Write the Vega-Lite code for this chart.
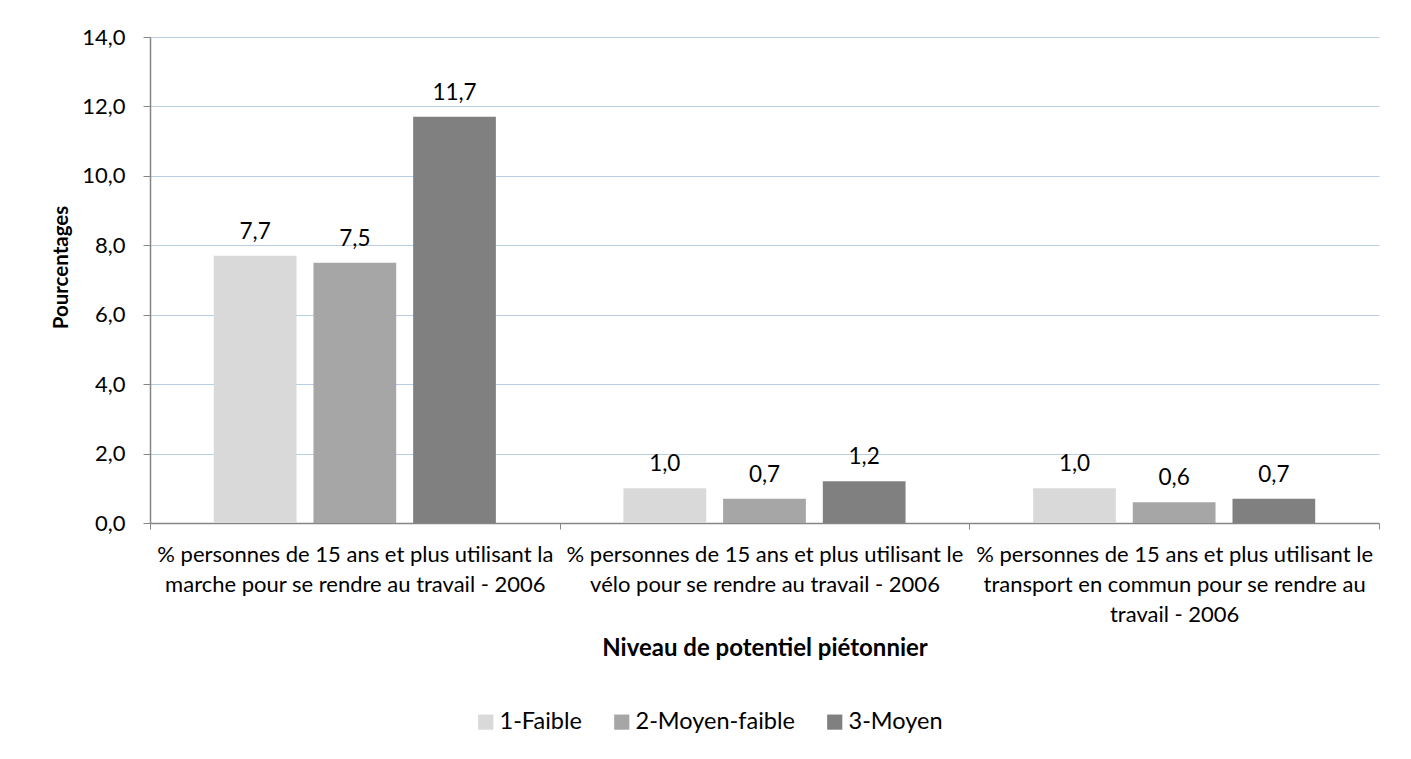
{
  "$schema": "https://vega.github.io/schema/vega-lite/v6.json",
  "width": 1229,
  "height": 486,
  "autosize": {"type": "none"},
  "padding": {"left": 150, "top": 37, "right": 32, "bottom": 236},
  "background": "white",
  "config": {
    "font": "Lato",
    "view": {"stroke": null},
    "locale": {"number": {"decimal": ",", "thousands": " ", "grouping": [3], "currency": ["", " €"]}}
  },
  "data": {
    "values": [
      {"indicateur": "% personnes de 15 ans et plus utilisant la|marche pour se rendre au travail - 2006", "niveau": "1-Faible", "valeur": 7.7},
      {"indicateur": "% personnes de 15 ans et plus utilisant la|marche pour se rendre au travail - 2006", "niveau": "2-Moyen-faible", "valeur": 7.5},
      {"indicateur": "% personnes de 15 ans et plus utilisant la|marche pour se rendre au travail - 2006", "niveau": "3-Moyen", "valeur": 11.7},
      {"indicateur": "% personnes de 15 ans et plus utilisant le|vélo pour se rendre au travail - 2006", "niveau": "1-Faible", "valeur": 1.0},
      {"indicateur": "% personnes de 15 ans et plus utilisant le|vélo pour se rendre au travail - 2006", "niveau": "2-Moyen-faible", "valeur": 0.7},
      {"indicateur": "% personnes de 15 ans et plus utilisant le|vélo pour se rendre au travail - 2006", "niveau": "3-Moyen", "valeur": 1.2},
      {"indicateur": "% personnes de 15 ans et plus utilisant le|transport en commun pour se rendre au|travail - 2006", "niveau": "1-Faible", "valeur": 1.0},
      {"indicateur": "% personnes de 15 ans et plus utilisant le|transport en commun pour se rendre au|travail - 2006", "niveau": "2-Moyen-faible", "valeur": 0.6},
      {"indicateur": "% personnes de 15 ans et plus utilisant le|transport en commun pour se rendre au|travail - 2006", "niveau": "3-Moyen", "valeur": 0.7}
    ]
  },
  "encoding": {
    "x": {
      "field": "indicateur", "type": "nominal", "sort": null,
      "scale": {"paddingInner": 0, "paddingOuter": 0},
      "axis": {
        "title": "Niveau de potentiel piétonnier",
        "titleFontSize": 24, "titleFontWeight": "bold", "titleColor": "#000000", "titlePadding": 11,
        "labelAngle": 0, "labelExpr": "split(datum.label, '|')",
        "labelFontSize": 22, "labelColor": "#000000", "labelLineHeight": 30, "labelPadding": 15, "labelBaseline": "top",
        "labelLimit": 0,
        "tickBand": "extent", "tickSize": 6, "tickColor": "#868686", "domainColor": "#868686", "domainWidth": 1.5,
        "grid": false
      }
    },
    "xOffset": {"field": "niveau", "type": "nominal", "sort": null, "scale": {"paddingInner": 0.17, "paddingOuter": 0.64}},
    "y": {
      "field": "valeur", "type": "quantitative",
      "scale": {"domain": [0, 14], "nice": false},
      "axis": {
        "title": "Pourcentages", "titleFontSize": 20.5, "titleFontWeight": "bold", "titleColor": "#000000", "titlePadding": 10,
        "titleY": 230,
        "values": [0, 2, 4, 6, 8, 10, 12, 14], "format": ".1f",
        "labelFontSize": 22, "labelColor": "#000000", "labelPadding": 18,
        "tickSize": 7, "tickColor": "#868686", "domainColor": "#868686", "domainWidth": 1.5,
        "gridColor": "#b9cde5", "gridWidth": 1.2
      }
    }
  },
  "layer": [
    {
      "mark": {"type": "bar"},
      "encoding": {
        "color": {
          "field": "niveau", "type": "nominal", "sort": null,
          "scale": {"domain": ["1-Faible", "2-Moyen-faible", "3-Moyen"], "range": ["#d9d9d9", "#a6a6a6", "#808080"]},
          "legend": {
            "title": null, "orient": "none", "legendX": 324, "legendY": 673, "direction": "horizontal",
            "symbolType": "square", "symbolSize": 230, "symbolStrokeWidth": 0,
            "labelFontSize": 23.5, "labelColor": "#000000", "columnPadding": 28, "symbolOffset": 0, "labelOffset": 2
          }
        }
      }
    },
    {
      "mark": {"type": "text", "dy": -17, "baseline": "alphabetic", "fontSize": 22.5, "color": "#000000"},
      "encoding": {
        "text": {"field": "valeur", "type": "quantitative", "format": ".1f"}
      }
    }
  ]
}
